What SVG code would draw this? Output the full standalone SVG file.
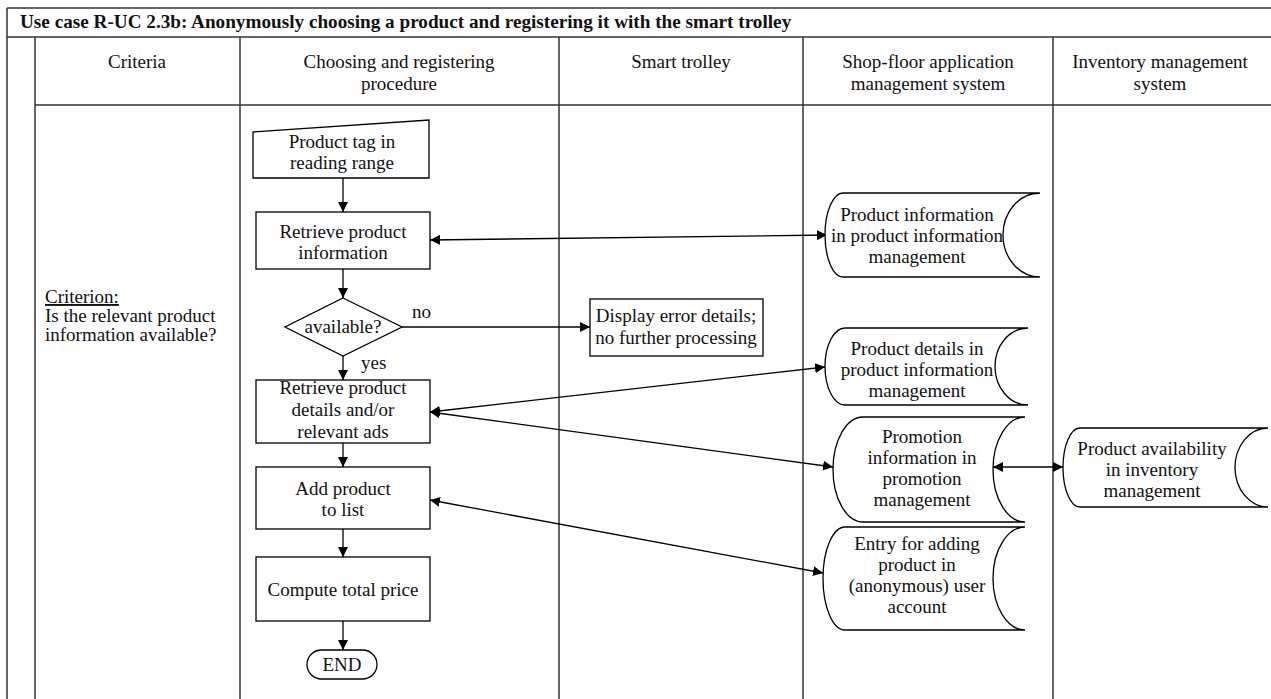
<svg xmlns="http://www.w3.org/2000/svg" width="1271" height="699" viewBox="0 0 1271 699">
  <defs>
    <marker id="arrow" viewBox="0 0 10 10" refX="10" refY="5" markerWidth="10" markerHeight="10" markerUnits="userSpaceOnUse" orient="auto-start-reverse">
      <path d="M0,0 L10,5 L0,10 z" fill="#000"/>
    </marker>
  </defs>
  <style>
    text { font-family: "Liberation Serif", "Times New Roman", serif; font-size: 19px; fill: #111; }
    .title { font-weight: bold; font-size: 19.2px; }
    .c { text-anchor: middle; }
    .grid { stroke: #333; stroke-width: 1.5; fill: none; }
    .shape { fill: #fff; stroke: #000; stroke-width: 1.3; }
    .conn line { stroke: #000; stroke-width: 1.3; }
  </style>
  <rect width="1271" height="699" fill="#fff"/>

  <!-- table frame -->
  <g id="table" class="grid">
    <line x1="7" y1="8" x2="1271" y2="8"/>
    <line x1="7" y1="8" x2="7" y2="699"/>
    <line x1="7" y1="37" x2="1271" y2="37"/>
    <line x1="35" y1="37" x2="35" y2="699"/>
    <line x1="35" y1="105" x2="1271" y2="105"/>
    <line x1="240" y1="37" x2="240" y2="699"/>
    <line x1="559" y1="37" x2="559" y2="699"/>
    <line x1="803" y1="37" x2="803" y2="699"/>
    <line x1="1053" y1="37" x2="1053" y2="699"/>
  </g>

  <g id="heading">
    <text class="title" x="20" y="28">Use case R-UC 2.3b: Anonymously choosing a product and registering it with the smart trolley</text>
    <text class="c" x="137" y="68">Criteria</text>
    <text class="c" x="399" y="68">Choosing and registering</text>
    <text class="c" x="399" y="90">procedure</text>
    <text class="c" x="681" y="68">Smart trolley</text>
    <text class="c" x="928" y="68">Shop-floor application</text>
    <text class="c" x="928" y="90">management system</text>
    <text class="c" x="1160" y="68">Inventory management</text>
    <text class="c" x="1160" y="90">system</text>
  </g>

  <g id="criterion">
    <text x="45" y="303" text-decoration="underline">Criterion:</text>
    <text x="45" y="322">Is the relevant product</text>
    <text x="45" y="341">information available?</text>
  </g>

  <!-- connectors -->
  <g id="connectors" class="conn">
    <line x1="343" y1="178" x2="343" y2="212" marker-end="url(#arrow)"/>
    <line x1="343" y1="269" x2="343" y2="298" marker-end="url(#arrow)"/>
    <line x1="343" y1="356" x2="343" y2="380" marker-end="url(#arrow)"/>
    <line x1="343" y1="443" x2="343" y2="467" marker-end="url(#arrow)"/>
    <line x1="343" y1="529" x2="343" y2="557" marker-end="url(#arrow)"/>
    <line x1="343" y1="621" x2="343" y2="650" marker-end="url(#arrow)"/>
    <line x1="402" y1="327" x2="590" y2="327" marker-end="url(#arrow)"/>
    <line x1="430" y1="240" x2="827" y2="235" marker-start="url(#arrow)" marker-end="url(#arrow)"/>
    <line x1="430" y1="412" x2="825" y2="367" marker-start="url(#arrow)" marker-end="url(#arrow)"/>
    <line x1="430" y1="412" x2="833" y2="467" marker-start="url(#arrow)" marker-end="url(#arrow)"/>
    <line x1="430" y1="500" x2="823" y2="573" marker-start="url(#arrow)" marker-end="url(#arrow)"/>
    <line x1="993" y1="467" x2="1063" y2="467" marker-start="url(#arrow)" marker-end="url(#arrow)"/>
  </g>

  <!-- procedure column -->
  <g id="tag-in-range">
    <path class="shape" d="M253,132 L429,120 L429,178 L253,178 Z"/>
    <text class="c" x="342" y="148">Product tag in</text>
    <text class="c" x="342" y="169">reading range</text>
  </g>
  <g id="retrieve-info">
    <rect class="shape" x="256" y="212" width="174" height="57"/>
    <text class="c" x="343" y="238">Retrieve product</text>
    <text class="c" x="343" y="259">information</text>
  </g>
  <g id="available">
    <path class="shape" d="M343,298 L402,327 L343,356 L285,327 Z"/>
    <text class="c" x="343" y="333">available?</text>
    <text x="412" y="318">no</text>
    <text x="361" y="369">yes</text>
  </g>
  <g id="retrieve-details">
    <rect class="shape" x="256" y="380" width="174" height="63"/>
    <text class="c" x="343" y="394">Retrieve product</text>
    <text class="c" x="343" y="416">details and/or</text>
    <text class="c" x="343" y="438">relevant ads</text>
  </g>
  <g id="add-product">
    <rect class="shape" x="256" y="467" width="174" height="62"/>
    <text class="c" x="343" y="495">Add product</text>
    <text class="c" x="343" y="516">to list</text>
  </g>
  <g id="total-price">
    <rect class="shape" x="256" y="557" width="174" height="64"/>
    <text class="c" x="343" y="596">Compute total price</text>
  </g>
  <g id="end">
    <rect class="shape" x="307" y="650" width="70" height="29" rx="14.5"/>
    <text class="c" x="342" y="671">END</text>
  </g>

  <!-- smart trolley -->
  <g id="error-display">
    <rect class="shape" x="590" y="299" width="173" height="57"/>
    <text class="c" x="676" y="322">Display error details;</text>
    <text class="c" x="676" y="344">no further processing</text>
  </g>

  <!-- shop-floor data stores -->
  <g id="ds-product-info">
    <path class="shape" d="M843,193 L1040,193 A37,42 0 0 0 1040,277 L843,277 A18,42 0 0 1 843,193 Z"/>
    <text class="c" x="917" y="221">Product information</text>
    <text class="c" x="917" y="242">in product information</text>
    <text class="c" x="917" y="263">management</text>
  </g>
  <g id="ds-product-details">
    <path class="shape" d="M845,328 L1028,328 A33,38.5 0 0 0 1028,405 L845,405 A20,38.5 0 0 1 845,328 Z"/>
    <text class="c" x="917" y="355">Product details in</text>
    <text class="c" x="917" y="376">product information</text>
    <text class="c" x="917" y="397">management</text>
  </g>
  <g id="ds-promotion">
    <path class="shape" d="M863,417 L1025,417 A32,52.5 0 0 0 1025,522 L863,522 A30,52.5 0 0 1 863,417 Z"/>
    <text class="c" x="922" y="443">Promotion</text>
    <text class="c" x="922" y="464">information in</text>
    <text class="c" x="922" y="485">promotion</text>
    <text class="c" x="922" y="506">management</text>
  </g>
  <g id="ds-user-entry">
    <path class="shape" d="M845,527 L1025,527 A32,51.5 0 0 0 1025,630 L845,630 A22,51.5 0 0 1 845,527 Z"/>
    <text class="c" x="917" y="550">Entry for adding</text>
    <text class="c" x="917" y="571">product in</text>
    <text class="c" x="917" y="592">(anonymous) user</text>
    <text class="c" x="917" y="613">account</text>
  </g>

  <!-- inventory data store -->
  <g id="ds-availability">
    <path class="shape" d="M1080,428 L1268,428 A33,39.5 0 0 0 1268,507 L1080,507 A17,39.5 0 0 1 1080,428 Z"/>
    <text class="c" x="1152" y="455">Product availability</text>
    <text class="c" x="1152" y="476">in inventory</text>
    <text class="c" x="1152" y="497">management</text>
  </g>
</svg>
